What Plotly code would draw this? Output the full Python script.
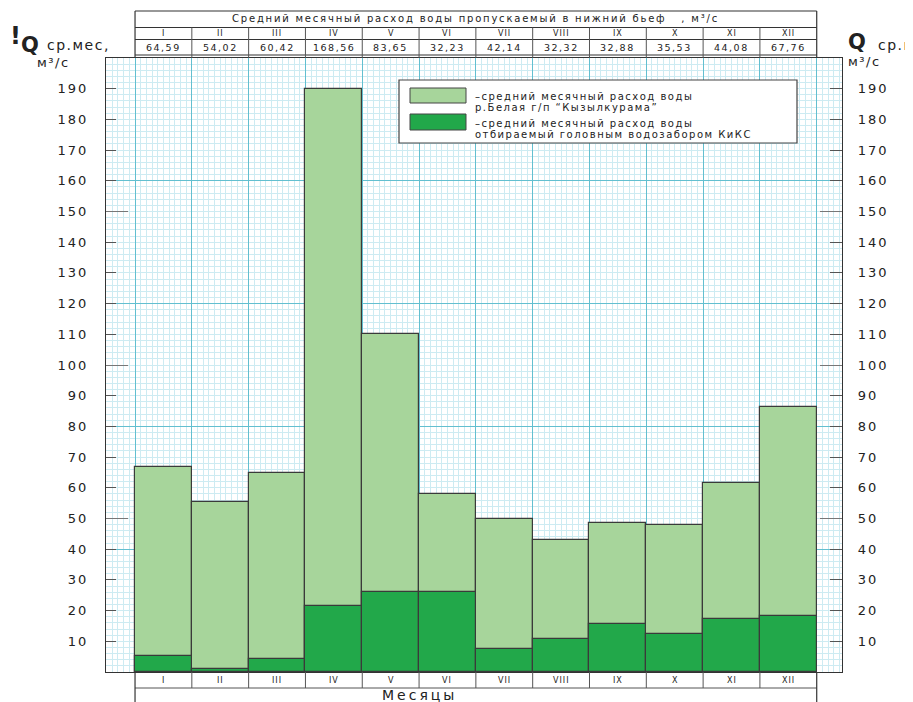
import plotly.graph_objects as go

# data
MONTHS = ["I", "II", "III", "IV", "V", "VI", "VII", "VIII", "IX", "X", "XI", "XII"]
TABLE_Q = ["64,59", "54,02", "60,42", "168,56", "83,65", "32,23",
           "42,14", "32,32", "32,88", "35,53", "44,08", "67,76"]
RIVER_Q = [66.8, 55.4, 64.8, 190.0, 110.0, 58.0, 49.8, 43.0, 48.5, 47.9, 61.6, 86.3]
INTAKE_Q = [5.3, 1.1, 4.3, 21.6, 26.2, 25.9, 7.6, 10.8, 15.6, 12.4, 17.4, 18.3]
Y_TICKS = list(range(10, 200, 10))
Y_LONG_TICKS = [50, 100, 150]

TITLE = "Средний месячный расход воды пропускаемый в нижний бьеф   , м³/с"
LEGEND = [
    ("–средний месячный расход воды", "р.Белая г/п “Кызылкурама”"),
    ("–средний месячный расход воды", "отбираемый головным водозабором КиКС"),
]

LIGHT = "#a7d59b"
DARK = "#22a84a"
EDGE = "#3a3a3a"
FONT = "DejaVu Sans"
PAGE = 8  # default body margin of the html page
W, H = 913 - PAGE, 702 - PAGE
L, R, T, B = 106, 842, 58, 672  # plot box in window pixels
X_RANGE = [-1.011, 11.945]


def px(x):
    return (x - L) / (R - L)


def py(y):
    return (B - y) / (B - T)


def cx(x):
    # pixel x -> category axis value
    return X_RANGE[0] + (x - L) / (R - L) * (X_RANGE[1] - X_RANGE[0])


def spaced(s, sp):
    return f'<span style="letter-spacing:{sp}px">{s}</span>'


idx = list(range(len(MONTHS)))

fig = go.Figure()
fig.add_trace(go.Bar(x=idx, y=RIVER_Q, width=1, marker_color=LIGHT,
                     marker_line=dict(color=EDGE, width=1.2), name=LEGEND[0][1]))
fig.add_trace(go.Bar(x=idx, y=INTAKE_Q, width=1, marker_color=DARK,
                     marker_line=dict(color=EDGE, width=1.2), name=LEGEND[1][1]))
# empty traces so that the helper axes (grid / long ticks) get drawn
for ax in ["y2", "y3", "y4", "y5"]:
    fig.add_trace(go.Scatter(x=[None], y=[None], yaxis=ax, mode="lines",
                             hoverinfo="skip", showlegend=False))

tickfont = dict(family=FONT, size=13, color="#222")
ticktext = [spaced(str(v), 2) for v in Y_TICKS]
fig.update_layout(
    width=W, height=H,
    margin=dict(l=L - PAGE, r=913 - R, t=T - PAGE, b=702 - B),
    paper_bgcolor="white", plot_bgcolor="white",
    barmode="overlay", showlegend=False, bargap=0,
    font=dict(family=FONT, color="#222"),
    xaxis=dict(range=X_RANGE, tick0=-0.5, dtick=1, showgrid=True,
               gridcolor="#62bfd0", gridwidth=1.3, showticklabels=False,
               ticks="", zeroline=False, showline=True, linecolor="#333",
               linewidth=1.3, mirror=True,
               minor=dict(dtick=0.1, tick0=-0.5, showgrid=True,
                          gridcolor="#cdebf2", gridwidth=1)),
    yaxis=dict(range=[0, 200], tickvals=Y_TICKS, ticktext=ticktext,
               ticks="inside", ticklen=10,
               tickcolor="#555", tickfont=tickfont, ticklabelstandoff=14,
               showgrid=False, zeroline=False, showline=True, linecolor="#333",
               linewidth=1.3,
               minor=dict(dtick=2, tick0=0, showgrid=True,
                          gridcolor="#cdebf2", gridwidth=1, ticks="")),
    yaxis2=dict(range=[0, 200], overlaying="y", side="right", tickvals=Y_TICKS,
                ticktext=ticktext,
                ticks="inside", ticklen=12, tickcolor="#555", tickfont=tickfont,
                ticklabelstandoff=12, showgrid=False, zeroline=False,
                showline=True, linecolor="#333", linewidth=1.3),
    yaxis3=dict(range=[0, 200], overlaying="y", dtick=40, showgrid=True,
                gridcolor="#62bfd0", gridwidth=1.3, showticklabels=False,
                ticks="", zeroline=False),
    yaxis4=dict(range=[0, 200], overlaying="y", side="left",
                tickvals=Y_LONG_TICKS, ticks="inside", ticklen=22,
                tickcolor="#777", showticklabels=False, showgrid=False,
                zeroline=False),
    yaxis5=dict(range=[0, 200], overlaying="y", side="right",
                tickvals=Y_LONG_TICKS, ticks="inside", ticklen=22,
                tickcolor="#777", showticklabels=False, showgrid=False,
                zeroline=False),
)

shapes = []
# white strips beside the grid paper, under the bars
for x0, x1 in [(X_RANGE[0], cx(116)), (cx(829), X_RANGE[1])]:
    shapes.append(dict(type="rect", xref="x", yref="paper", x0=x0, x1=x1,
                       y0=0, y1=1, fillcolor="white", line_width=0,
                       layer="between"))

line = dict(color="#333", width=1.2)
thin = dict(color="#555", width=1)
# header table
hy = [py(11), py(27.5), py(39.5), py(55)]
for y in hy:
    shapes.append(dict(type="line", xref="x", yref="paper", x0=-0.5,
                       x1=len(MONTHS) - 0.5, y0=y, y1=y, line=line))
for i in range(len(MONTHS) + 1):
    outer = i in (0, len(MONTHS))
    shapes.append(dict(type="line", xref="x", yref="paper", x0=i - 0.5,
                       x1=i - 0.5, y0=1, y1=hy[0] if outer else hy[1],
                       line=line if outer else thin))
# bottom table
shapes.append(dict(type="line", xref="x", yref="paper", x0=-0.5,
                   x1=len(MONTHS) - 0.5, y0=py(688), y1=py(688), line=thin))
for i in range(len(MONTHS) + 1):
    outer = i in (0, len(MONTHS))
    shapes.append(dict(type="line", xref="x", yref="paper", x0=i - 0.5,
                       x1=i - 0.5, y0=0, y1=py(702) if outer else py(688),
                       line=line if outer else thin))

# legend box
shapes.append(dict(type="rect", xref="paper", yref="paper", x0=px(399),
                   x1=px(797), y0=py(80), y1=py(143), fillcolor="white",
                   line=dict(color="#444", width=1.2)))
for (top, bot), color in zip([(88, 103), (114, 130)], [LIGHT, DARK]):
    shapes.append(dict(type="rect", xref="paper", yref="paper", x0=px(410),
                       x1=px(466), y0=py(top), y1=py(bot), fillcolor=color,
                       line=dict(color="#444", width=1)))

ann = []


def text(x, y, s, size, xref="paper", xanchor="center", sp=0):
    if sp:
        s = spaced(s, sp)
    ann.append(dict(x=x, y=y, xref=xref, yref="paper", text=s, showarrow=False,
                    xanchor=xanchor, yanchor="middle",
                    font=dict(family=FONT, size=size, color="#222")))


text(5.5, py(19), TITLE, 10, xref="x", sp=1.8)
for i, (m, q) in enumerate(zip(MONTHS, TABLE_Q)):
    text(i, py(33.5), m, 8, xref="x", sp=1)
    text(i, py(47.5), q, 9.5, xref="x", sp=1.5)
    text(i, py(680.5), m, 8, xref="x", sp=1)
text(4.5, py(695), "Месяцы", 14, xref="x", sp=3)

for (l1, l2), (y1, y2) in zip(LEGEND, [(96, 107), (123, 134)]):
    text(px(473), py(y1), l1, 10, xanchor="left", sp=1.5)
    text(px(473), py(y2), l2, 10, xanchor="left", sp=1.5)

# axis captions
text(px(8), py(36), "<b>!</b>", 24, xanchor="left")
text(px(19), py(45), "<b>Q</b>", 21, xanchor="left")
text(px(45), py(45), "ср.мес,", 14, xanchor="left", sp=1.5)
text(px(35), py(62), "м³/с", 13, xanchor="left", sp=1.5)
text(px(846), py(42), "<b>Q</b>", 21, xanchor="left")
text(px(876), py(45), "ср.мес,", 14, xanchor="left", sp=1.5)
text(px(846), py(61), "м³/с", 13, xanchor="left", sp=1.5)

fig.update_layout(shapes=shapes, annotations=ann)
fig.write_html("out.html")
